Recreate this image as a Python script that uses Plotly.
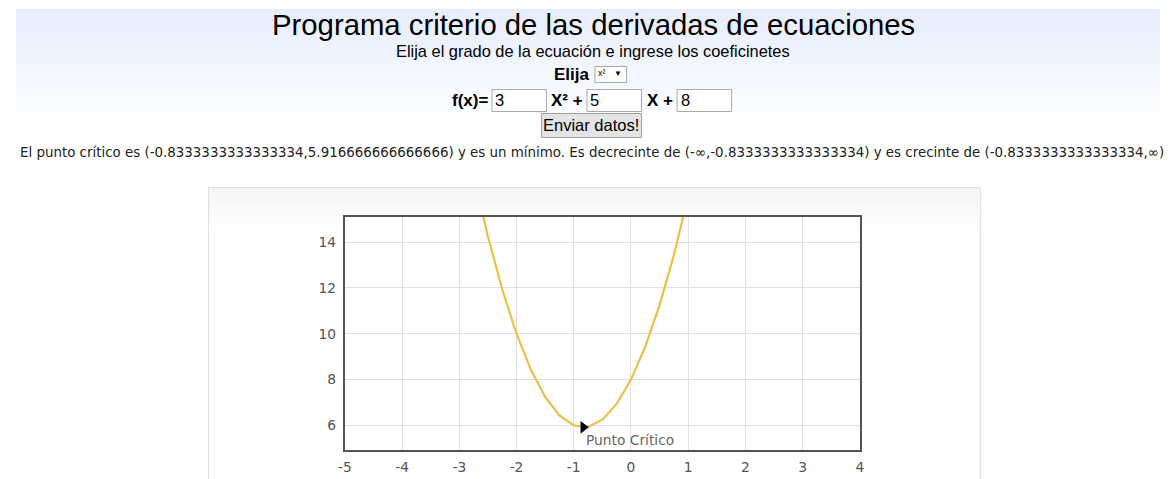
import plotly.graph_objects as go

W, H = 1173, 479

# ---------------- data ----------------
title_text = "Programa criterio de las derivadas de ecuaciones"
subtitle_text = "Elija el grado de la ecuación e ingrese los coeficinetes"
coef_a, coef_b, coef_c = "3", "5", "8"
result_text = ("El punto crítico es (-0.8333333333333334,5.916666666666666) y es un mínimo. "
               "Es decrecinte de (-∞,-0.8333333333333334) y es crecinte de (-0.8333333333333334,∞)")

curve_x = [-3.0, -2.75, -2.5, -2.25, -2.0, -1.75, -1.5, -1.25, -1.0, -0.75,
           -0.5, -0.25, 0.0, 0.25, 0.5, 0.75, 1.0, 1.25]
curve_y = [20.0, 16.9375, 14.25, 11.9375, 10.0, 8.4375, 7.25, 6.4375, 6.0, 5.9375,
           6.25, 6.9375, 8.0, 9.4375, 11.25, 13.4375, 16.0, 18.9375]
crit_x = [-0.8333333333333334]
crit_y = [5.916666666666666]
crit_label = "Punto Crítico"
x_ticks = [-5, -4, -3, -2, -1, 0, 1, 2, 3, 4]
x_tick_labels = ["-5", "-4", "-3", "-2", "-1", "0", "1", "2", "3", "4"]
y_ticks = [6, 8, 10, 12, 14]
y_tick_labels = ["6", "8", "10", "12", "14"]
x_range = [-5, 4]
y_range = [4.93, 15.09]


def px(x):
    return x / W


def py(y):
    return 1 - y / H


shapes = []
annotations = []

# header gradient block
n_bands = 30
top, bot = 9, 128
c0 = (230, 237, 252)
for i in range(n_bands):
    t = i / (n_bands - 1)
    col = tuple(round(c0[k] + (255 - c0[k]) * t) for k in range(3))
    y0 = top + (bot - top) * i / n_bands
    y1 = top + (bot - top) * (i + 1) / n_bands + 0.6
    shapes.append(dict(type="rect", xref="paper", yref="paper", layer="below",
                       x0=px(9), x1=px(1164), y0=py(y1), y1=py(y0),
                       fillcolor="rgb(%d,%d,%d)" % col, line=dict(width=0)))

# chart container box
n_b2 = 14
for i in range(n_b2):
    t = i / (n_b2 - 1)
    v = round(245 + (255 - 245) * t)
    y0 = 188 + 45 * i / n_b2
    y1 = 188 + 45 * (i + 1) / n_b2 + 0.6
    shapes.append(dict(type="rect", xref="paper", yref="paper", layer="below",
                       x0=px(204), x1=px(982), y0=py(y1), y1=py(y0),
                       fillcolor="rgb(%d,%d,%d)" % (v, v, v), line=dict(width=0)))
shapes.append(dict(type="rect", xref="paper", yref="paper", layer="below",
                   x0=px(203.5), x1=px(982.5), y0=py(490), y1=py(187.5),
                   fillcolor="rgba(0,0,0,0)", line=dict(color="#dcdcdc", width=1)))
# plot area white background
shapes.append(dict(type="rect", xref="paper", yref="paper", layer="below",
                   x0=px(341), x1=px(861), y0=py(450), y1=py(217),
                   fillcolor="white", line=dict(width=0)))


def text(x, y, s, size, color="#000", family="Liberation Sans, Arial", bold=False,
         xanchor="center"):
    if bold:
        s = "<b>" + s + "</b>"
    annotations.append(dict(xref="paper", yref="paper", x=px(x), y=py(y), text=s,
                            showarrow=False, xanchor=xanchor, yanchor="middle",
                            font=dict(size=size, color=color, family=family)))


def box(x0, y0, x1, y1, fill="white", line="#a9a9a9"):
    shapes.append(dict(type="rect", xref="paper", yref="paper",
                       x0=px(x0), x1=px(x1), y0=py(y1), y1=py(y0),
                       fillcolor=fill, line=dict(color=line, width=1)))


text(592, 24, title_text, 29.3)
text(592, 51, subtitle_text, 16.4)

# select row
text(570.5, 75, "Elija", 17, bold=True)
box(593.5, 66.5, 625.5, 82.5)
text(601, 73, "x²", 9, xanchor="center")
text(617, 73, "▼", 8)

# coefficient row
text(467.5, 100, "f(x)=", 17, bold=True)
box(489.5, 89.5, 544.5, 111.5)
text(491, 100, coef_a, 16.5, xanchor="left")
text(565.5, 100, "X² +", 17, bold=True)
box(585.5, 89.5, 640.5, 111.5)
text(587, 100, coef_b, 16.5, xanchor="left")
text(659, 100, "X +", 17, bold=True)
box(676.5, 89.5, 731.5, 111.5)
text(678, 100, coef_c, 16.5, xanchor="left")

# button
box(539.5, 113.5, 640.5, 137.5, fill="#e4e4e4", line="#a0a0a0")
text(590, 125, "Enviar datos!", 16.5)

# result sentence
text(591, 152, result_text, 13.4, color="#222", family="DejaVu Sans, Verdana")

# chart annotation for critical point
annotations.append(dict(x=crit_x[0], y=crit_y[0], xref="x", yref="y", text=crit_label,
                        showarrow=False, xanchor="left", yanchor="middle",
                        xshift=1, yshift=-13,
                        font=dict(size=13.8, color="#666", family="DejaVu Sans, Verdana")))

fig = go.Figure()
fig.add_trace(go.Scatter(x=curve_x, y=curve_y, mode="lines",
                         line=dict(color="#e9c04a", width=2.2), hoverinfo="skip",
                         cliponaxis=True, showlegend=False))
fig.add_trace(go.Scatter(x=crit_x, y=crit_y, mode="markers",
                         marker=dict(symbol="triangle-right", size=11, color="black"),
                         showlegend=False))

axis_common = dict(showgrid=True, gridcolor="#e0e0e0", gridwidth=1, zeroline=False,
                   showline=True, linecolor="#545454", linewidth=2, mirror=True,
                   ticks="", tickfont=dict(size=13.8, color="#545454",
                                           family="DejaVu Sans, Verdana"))

fig.update_layout(
    width=W, height=H,
    margin=dict(l=0, r=0, t=0, b=0),
    paper_bgcolor="white", plot_bgcolor="rgba(0,0,0,0)",
    xaxis=dict(domain=[px(341), px(861)], range=x_range, tickvals=x_ticks,
               ticktext=x_tick_labels, ticklabelstandoff=3, **axis_common),
    yaxis=dict(domain=[py(450), py(217)], range=y_range, tickvals=y_ticks,
               ticktext=y_tick_labels, ticklabelstandoff=4, **axis_common),
    shapes=shapes, annotations=annotations,
)

fig.write_html("out.html", config={"displayModeBar": False},
               post_script="document.body.style.margin='0';document.body.style.overflow='hidden';")
